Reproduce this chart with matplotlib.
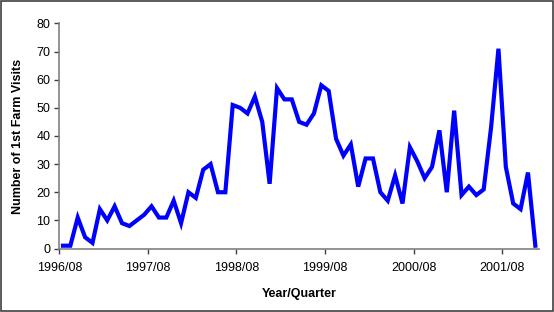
import matplotlib
matplotlib.use("Agg")
import matplotlib.pyplot as plt
from matplotlib.patches import Rectangle

# monthly counts of first farm visits, Aug 1996 onwards
visits = [1, 1, 11, 4, 2, 14, 10, 15, 9, 8, 10, 12,
          15, 11, 11, 17, 9, 20, 18, 28, 30, 20, 20, 51,
          50, 48, 54, 45, 23, 57, 53, 53, 45, 44, 48, 58,
          56, 39, 33, 37, 22, 32, 32, 20, 17, 26, 16, 36,
          31, 25, 29, 42, 20, 49, 19, 22, 19, 21, 43, 71,
          29, 16, 14, 27, 1]
tick_labels = ["1996/08", "1997/08", "1998/08", "1999/08", "2000/08", "2001/08"]

plt.rcParams["font.family"] = ["Liberation Sans", "DejaVu Sans"]
plt.rcParams["font.size"] = 9

fig = plt.figure(figsize=(5.54, 3.12), dpi=100)
ax = fig.add_axes([0.107, 0.2035, 0.866, 0.7215])

x = list(range(len(visits)))
ax.plot(x, visits, color="#0000FF", linewidth=3.0, solid_joinstyle="miter")

ax.set_xlim(-0.5, len(visits) - 0.5)
ax.set_ylim(0, 80)
ax.set_yticks(range(0, 81, 10))
ax.set_xticks([-0.5 + 12 * k for k in range(len(tick_labels))])
ax.set_xticklabels(tick_labels)

for side in ["top", "right"]:
    ax.spines[side].set_visible(False)
for side in ["left", "bottom"]:
    ax.spines[side].set_color("#808080")
    ax.spines[side].set_linewidth(1.2)
ax.tick_params(axis="both", direction="out", length=3.5, width=1, color="#404040",
               labelsize=9, pad=3)
ax.tick_params(axis="x", pad=6)

ax.set_xlabel("Year/Quarter", fontweight="bold", fontsize=9, labelpad=10)
ax.set_ylabel("Number of 1st Farm Visits", fontweight="bold", fontsize=9, labelpad=9)

fig.patches.append(Rectangle((0.001, 0.002), 0.997, 0.995, transform=fig.transFigure,
                             fill=False, edgecolor="#404040", linewidth=1.2))

fig.savefig("out.png", dpi=100)
plt.close(fig)
